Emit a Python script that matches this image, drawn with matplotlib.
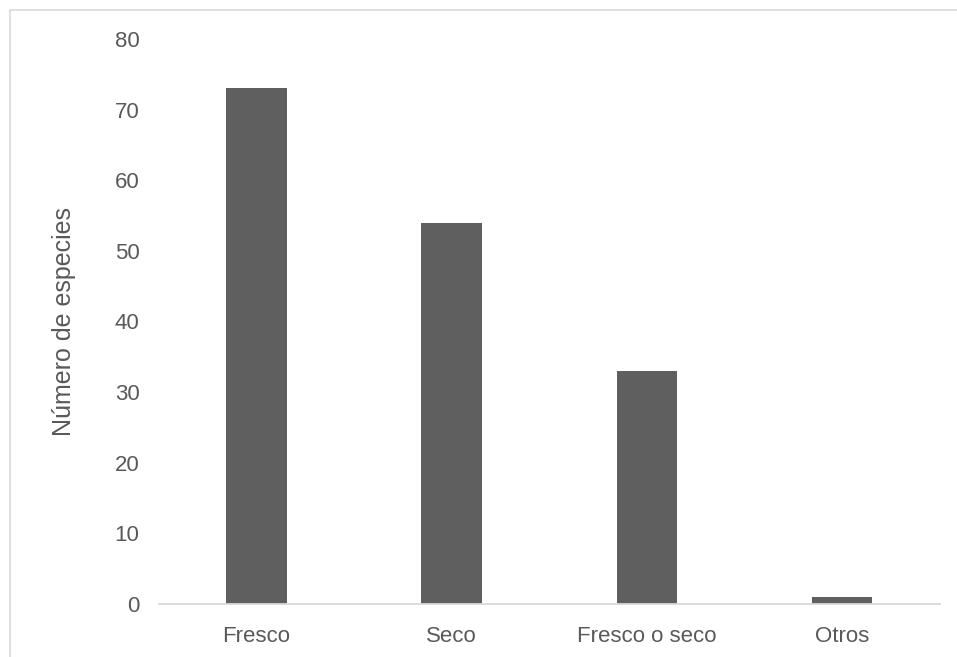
import matplotlib; matplotlib.use("Agg")
import matplotlib.pyplot as plt
from matplotlib.patches import Rectangle

TXT = "#595959"; BAR = "#5f5f5f"; LINE = "#d9d9d9"

plt.rcParams.update({
    "font.family": ["Liberation Sans", "DejaVu Sans"],
    "font.size": 16, "text.color": TXT,
    "xtick.color": TXT, "ytick.color": TXT,
})

categories = ["Fresco", "Seco", "Fresco o seco", "Otros"]
values = [73, 54, 33, 1]
yticks = [0, 10, 20, 30, 40, 50, 60, 70, 80]

fig = plt.figure(figsize=(9.57, 6.57), dpi=100)
ax = fig.add_axes([0.166, 0.0807, 0.816, 0.86])
# outer chart frame
fig.patches.append(Rectangle((10 / 957, -0.01), 1.0, 1 - 10 / 657 + 0.01,
                             transform=fig.transFigure, fill=False,
                             edgecolor=LINE, lw=1.2))

x = range(len(categories))
ax.bar(x, values, width=0.31, color=BAR)
ax.set_xlim(-0.5, len(categories) - 0.5)
ax.set_ylim(0, 80)
ax.set_xticks(list(x))
ax.set_xticklabels(categories)
ax.set_yticks(yticks)
ax.set_ylabel("Número de especies", fontsize=18, color=TXT, labelpad=28)
for sp in ("top", "right", "left"):
    ax.spines[sp].set_visible(False)
ax.spines["bottom"].set_color(LINE)
ax.spines["bottom"].set_linewidth(1.3)
ax.tick_params(length=0, labelsize=16)
ax.tick_params(axis="x", pad=16)
ax.tick_params(axis="y", pad=14)

fig.savefig("out.png", dpi=100)
